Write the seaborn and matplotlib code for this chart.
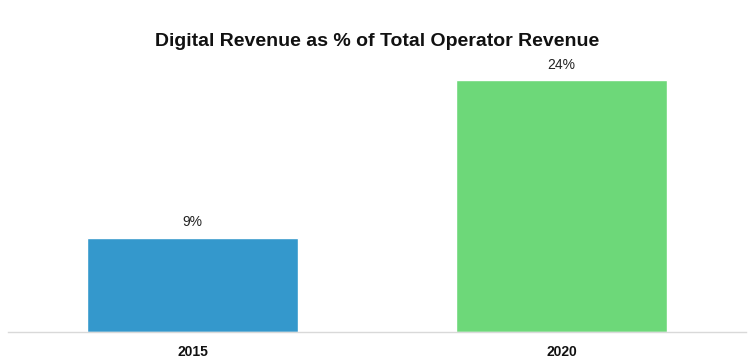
import matplotlib
matplotlib.use("Agg")
import matplotlib.pyplot as plt
import seaborn as sns
import pandas as pd

years = ["2015", "2020"]
shares = [9, 24]
bar_colors = ["#3498cc", "#6dd879"]

sns.set_style("white")
plt.rcParams["font.family"] = ["Liberation Sans Narrow", "Liberation Sans", "DejaVu Sans"]

df = pd.DataFrame({"year": years, "share": shares})

fig = plt.figure(figsize=(7.54, 3.63), dpi=100)
ax = fig.add_axes([8 / 754, 31 / 363, 738 / 754, 262 / 363])
sns.barplot(data=df, x="year", y="share", hue="year", palette=bar_colors,
            width=0.57, legend=False, saturation=1, ax=ax)

ax.set_xlim(-0.5, 1.5)
ax.set_ylim(0, 25.0)
for i, v in enumerate(shares):
    ax.text(i, v + 0.8, f"{v}%", ha="center", va="bottom", fontsize=10, color="#222222")

ax.set_xlabel("")
ax.set_ylabel("")
ax.set_yticks([])
ax.tick_params(axis="x", length=0, pad=9)
for lbl in ax.get_xticklabels():
    lbl.set_fontweight("bold")
    lbl.set_fontsize(10)
    lbl.set_color("#111111")
for s in ["top", "right", "left"]:
    ax.spines[s].set_visible(False)
ax.spines["bottom"].set_color("#d9d9d9")
ax.spines["bottom"].set_linewidth(1)

fig.suptitle("Digital Revenue as % of Total Operator Revenue", y=0.91,
             fontsize=14, fontweight="bold", color="#111111")

fig.savefig("out.png", dpi=100)
